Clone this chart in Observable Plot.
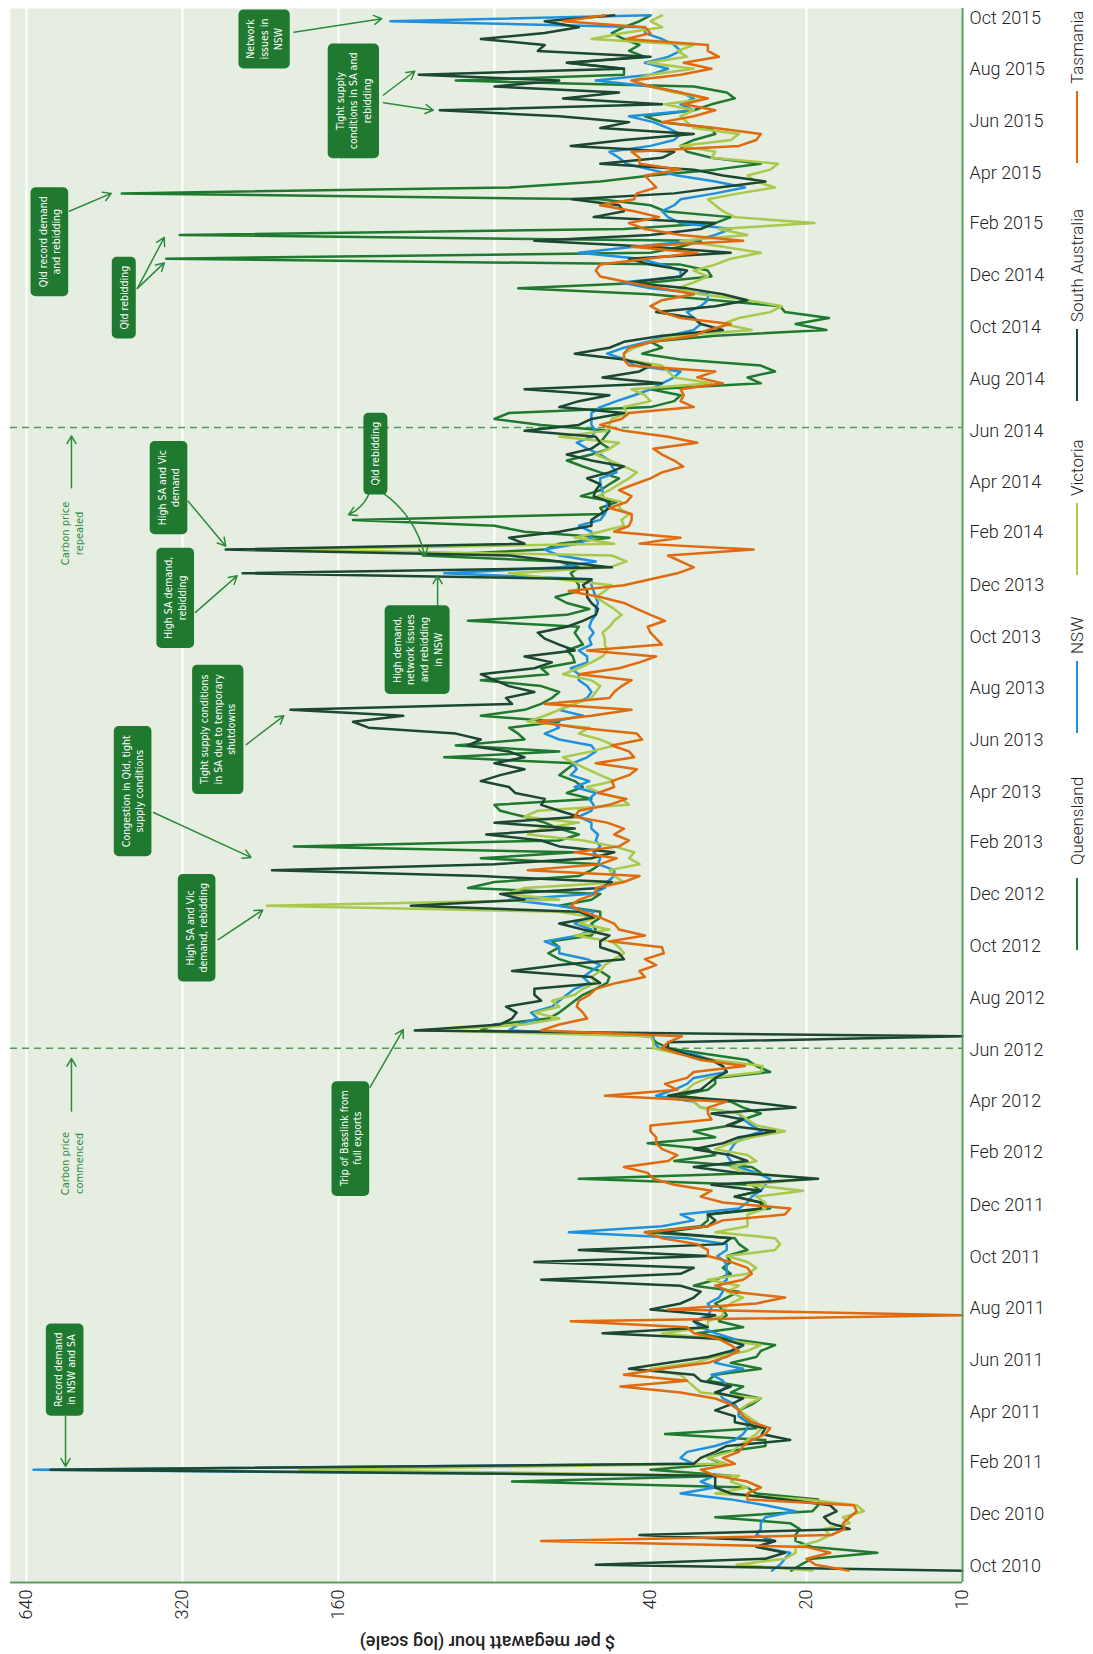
<!DOCTYPE html>
<html><head><meta charset="utf-8">
<script src="https://cdn.jsdelivr.net/npm/d3@7"></script>
<script src="https://cdn.jsdelivr.net/npm/@observablehq/plot@0.6"></script>
<style>
body{margin:0;background:#fff;}
#wrap{position:relative;width:1093px;height:1654px;overflow:hidden;}
#legend{position:absolute;left:1066px;top:950px;width:945px;height:22px;transform-origin:0 0;transform:rotate(-90deg);white-space:nowrap;font-family:Roboto,"Liberation Sans",sans-serif;font-weight:300;font-size:17px;color:#222;}
#legend .sw{position:absolute;top:10px;width:72px;height:2px;}
#legend .lb{position:absolute;top:0;line-height:22px;}
</style></head><body><div id="wrap"></div>
<script>
// Weekly average prices ($/MWh), weeks starting 2010-09-26
const startDate = "2010-09-26";
const qld = [21.4,20.5,19.5,14.6,19.5,21,21,20.6,21.5,30,
19.5,19,19,25,26,74,28,40,29,31,
29,24,24,37.5,25,26,27,27,25.5,24.5,
28,26.5,31,30,24.5,28,25,24.5,23,28,
32.5,26.5,29.5,28.5,29,30,28.5,27,33,30,
28,29,28,28.5,26,27,27.5,41,32,31,
31,23.5,24.5,27.5,24.5,25.5,55,24.5,25.5,36,
30,31,40.5,30,33,28,26.5,24.5,26.5,28,
35.5,31,30,30,23.5,25,26,31,37,39,
40,85,80,63,60,58,56,54,51,48.5,
48,50,55,60,63,60,62,52,51,52,
50,50,60,52,50,90,80,55,52,50,
85,56,195,60,55,60,64,70,78,80,
52,58,54,56,60,58,56,100,60,95,
70,72,75,60,85,70,65,62,60,65,
85,63,65,56,56.5,58,54,55,56,55,
90,58,52.5,58,61,55,55,56,57,55,
60,110,64,60,48,70,80,150,49,50,
46.5,54.5,50,48,46,50,54,58,52,48,
50,49,48,65,80,75,40,36,35,40,
24.5,26,23,24.5,35,41.5,38,40,30,18.3,
21,18.1,22,22.5,30,40,72,40,30.5,31,
35,344,40,35,32,324,45,30,28,37.5,
40,50,419,75,50,40,30,24.5,30.5,34,
35,33,30,30.5,38,41,33,30.5,27.5,28.5,
33,95,45,45,58,41,44,42,45,47.5,
45,42,40];
const nsw = [23.3,22.5,22,21.5,25,23,25,24.5,24.5,24,
21,24,28,35,30,32,30,620,33,35,
34,30,27.5,26.5,26,26,27,27,27.5,29,
29.5,28.5,29,30.5,26.5,30,29,27.5,26.5,27.5,
30,32,33,31,30.5,31,29.5,29,29.5,28.5,
28.5,28.5,28.7,29.7,28.5,28.5,34,57.5,38,33,
35,27,26,25.5,24.5,24,23.5,25,27,28,
28.5,28,27.5,26.5,24.4,25.5,26.5,27,32,33,
39,36,34,33,28.5,29,30.5,33,38.5,39.5,
39.5,75,72,66,68,62,60,58,56,52.5,
54,52,50,53,60,60,64,55,52,56,
53,51.5,60,75,52,49,48.5,47,47,50.5,
50,51.5,50,51,50.5,52,52,55,52,51.5,
52.5,51,56,52.5,57,55.5,56.5,53,51,52,
60,64,60,62,54,60,56,53,52,53,
55,55,57,53,53,55,52,52.5,51.5,52.5,
52,51,51,50.5,51,51.5,52,52,100,60,
51,60,64,55,52,52,55,50,49,48.5,
48.5,49.5,49.5,50,50,46.5,47.5,48,50,53,
55.5,52,51,52,52,52,50,46.5,43,40,
38,36,35,43,44.5,48.5,45,40.5,37,33,
32,33,34,32,31,31,40,45.5,35,35,
38,42,55,43,33,30,28,35,37,38,
36,35,30,26.3,30,35.5,40,44.5,46,48,
40,36,35,37,39.5,44,33,35,33,35,
40,51,40,37,41,37,35,36,38,41,
41,127,40];
const vic = [19.5,27.3,22,21,21,19,18,18.5,16.5,17,
15.5,16,20,30,26,28,27,190,28.5,31,
28,27,26,25,24.4,25,26,27,26,24.5,
32,33,34,35,40,33,30,26,24.5,30,
38,31,31,29,29,28,26.5,28.5,27,31,
26,25,26,28.5,23,22.5,23,30,26,26,
26,24,24,25,20.3,26,19.5,26,28,25,
26,30,28,25.5,22,25,26,27,32,33,
36,34,33,31,24.5,24.3,30,35,39.5,39.5,
40,105,70,60,67,60,62,56,54,51,
52,50,49,47,45,46,47.6,56,48,55,
51,60,220,60,76,70,45,47,48,42,
44,43,47,54,69,65,55,70,66,44,
45.5,50,53,47,50,53,56,59,52,47,
50,55,52.5,69,64,60,56,52,51,50,
52,59,55,52,49.5,48.5,49,49,49.5,48,
47,45.5,47,49,51,49,47.5,60,75,48,
44.5,47.5,200,47,56,50,45,45.5,44,46,
45.5,50.5,48,46,44,42.5,45,48,51,48,
46,60,48.5,48,47.5,44.5,45,40,41,43.5,
30.5,36,37,38,45,45,43,40,36,25.5,
29,27,23.5,22.3,26,32,35.5,33,31,33,
30,28,24.5,29,35,26,29.5,19.3,27.5,29,
30,31,27,23,25,26,23.5,22.7,30.5,30,
35,28,27,33,34,35,33,37.5,31,36,
40,43.5,40,33,40.5,34,35.5,33,52,45,
38,40,38];
const sa = [10,51,24,22,25,23,42,16.5,18,18.5,
17.5,18,22,28,30,30,30,575,33,32,
30,28.5,21.5,24.4,24,27.5,27.5,30,28,26.5,
30,28,32,33,44,37,31,28,26.5,29,
49.5,31,33,30,40,35,33,32,35,65,
35,33,67,31,55,29,28,38,31,30,
31,24.5,24.5,27.5,24.5,30.5,19,27,33,26,
28,33,29,27,23,28.5,26.5,30.5,21,26,
37,32,31,30,28.5,29,30.5,34,37,37,
10,114,78,74,72.5,76,65,67,67,50,
52,74,60,45,46,50,50,48,54,60,
51.5,55,116,70,78,50,47.5,85,215,80,
52,47,60,65,83,56,80,55,60,65,
64,73,75,85,78,70,80,70,75,90,
85,95,140,150,120,198,74,76,67,75,
80,85,67,62,70,56,60,64,66,58,
54,51,50.5,52,53,53,54,52,245,47.5,
60,75,264,70,75,60,52,52,50,48,
48,51.5,51,50,53,48,45,52,58,52,
50,51,70,55,52,45,60,55,48,70,
38,49.5,42,40,45,56,48,45,38,29,
32,33,39,30,26,29,34,44,35,34,
40,44,28,40,67,40,32,30,51.5,45,
46,56.6,36,29.5,24,29,33,50,38,36,
57,45,33,50,44,60,102,38,59,46,
80,60,112,45,58,40,66,64,85,64,
55,64,47];
const tas = [16.6,19.2,20,18,20,65,17.9,16.9,17,16.5,
16,16.2,26,26,24.5,26,30,32,27.5,29,
27,26.5,25.5,24,23.5,25.5,26.5,27,28,30,
35,45.7,34,45,38,31,28.5,27,28,29.5,
33,34,57,10,37,25,22,28,30,26.5,
25.5,26,28,31,31,32.5,38,41,31,29,
22,21.5,29,32,30.5,36,39.5,40.5,45,37,
35.5,38,39,39,40,40,30.5,31,31,28.5,
49,35.5,37.5,34,33,26.3,32,35,38,37,
34.8,65,60,53,54,55.5,55,52.5,51,46.5,
41,42,39,41,37.7,38,48,41,46,47,
50,54,57,55,51,51,45,42,69,50,
46.5,56,46,44,47,45,48.5,56,55,48,
44.5,50.5,47,47.5,44,42.5,51,43,44,47.5,
41.5,42.5,55,66,52,43.5,64,48,47,45.5,
43.5,55,46,42,39,53,38,39,40,40.5,
37.5,40,42.5,45,50,57.5,45,40,35.5,33,
35,37,25.3,42,35,47,44,43.5,43.5,48,
44.5,43.5,46,43,40,38,34.6,36,38,39.5,
32.5,37,45,50,45.5,44,33,35,34.5,35,
29,32.5,30,44,45,45,44,39.5,33,31,
28,35,38,40,38,33,38,44,50,51,
50,40.5,32.5,43.5,26.5,35,41,44,38.5,43,
50,43,42.5,39,40,41,35,42,42,43.5,
27,25,24.5,30,38,33,30,34.5,31,35,
40,43.5,35,30.5,34.5,29.5,31,31,44.5,40,
41,59,49];

const regionNames = ["Queensland","NSW","Victoria","South Australia","Tasmania"];
const regionColors = ["#1f7a2f","#2191dd","#a9c84c","#1b4733","#df6a0f"];
const regionValues = [qld, nsw, vic, sa, tas];

const valueTicks = [10,20,40,80,160,320,640];
const gridValues = [20,40,80,160,320,640];
const dateTicks = ["2010-10-01","2010-12-01","2011-02-01","2011-04-01","2011-06-01","2011-08-01","2011-10-01","2011-12-01",
"2012-02-01","2012-04-01","2012-06-01","2012-08-01","2012-10-01","2012-12-01","2013-02-01","2013-04-01","2013-06-01",
"2013-08-01","2013-10-01","2013-12-01","2014-02-01","2014-04-01","2014-06-01","2014-08-01","2014-10-01","2014-12-01",
"2015-02-01","2015-04-01","2015-06-01","2015-08-01","2015-10-01"];
const carbonLines = ["2012-06-03","2014-06-05"];

const notes = [
 {date:"2015-09-06", value:223, text:"Network\nissues in\nNSW"},
 {date:"2015-06-25", value:150, text:"Tight supply\nconditions in SA and\nrebidding"},
 {date:"2015-01-10", value:579, text:"Qld record demand\nand rebidding"},
 {date:"2014-11-05", value:416, text:"Qld rebidding"},
 {date:"2014-03-26", value:341, text:"High SA and Vic\ndemand"},
 {date:"2014-05-05", value:136, text:"Qld rebidding"},
 {date:"2013-11-16", value:331, text:"High SA demand,\nrebidding"},
 {date:"2013-09-16", value:113, text:"High demand,\nnetwork issues\nand rebidding\nin NSW"},
 {date:"2013-06-14", value:274, text:"Tight supply conditions\nin SA due to temporary\nshutdowns"},
 {date:"2013-04-02", value:400, text:"Congestion in Qld, tight\nsupply conditions"},
 {date:"2012-10-23", value:301, text:"High SA and Vic\ndemand, rebidding"},
 {date:"2012-02-18", value:152, text:"Trip of Basslink from\nfull exports"},
 {date:"2011-05-21", value:541, text:"Record demand\nin NSW and SA"}
];
const plainNotes = [
 {date:"2014-01-31", value:524, text:"Carbon price\nrepealed"},
 {date:"2012-01-19", value:524, text:"Carbon price\ncommenced"}
];
const arrows = [
 {d1:"2015-09-14", v1:195, d2:"2015-09-30", v2:132},
 {d1:"2015-06-23", v1:131, d2:"2015-06-14", v2:105},
 {d1:"2015-07-02", v1:131, d2:"2015-07-30", v2:114},
 {d1:"2015-02-15", v1:529, d2:"2015-03-08", v2:439},
 {d1:"2014-11-16", v1:391, d2:"2015-01-15", v2:347},
 {d1:"2014-11-16", v1:391, d2:"2014-12-16", v2:347},
 {d1:"2014-03-26", v1:524, d2:"2014-05-26", v2:524},
 {d1:"2014-03-10", v1:312, d2:"2014-01-16", v2:264},
 {d1:"2013-10-30", v1:302, d2:"2013-12-12", v2:251},
 {d1:"2013-11-05", v1:103, d2:"2013-12-12", v2:103},
 {d1:"2013-05-27", v1:241, d2:"2013-06-30", v2:204},
 {d1:"2013-03-08", v1:364, d2:"2013-01-14", v2:236},
 {d1:"2012-10-09", v1:273, d2:"2012-11-13", v2:224},
 {d1:"2012-04-18", v1:139, d2:"2012-06-25", v2:120},
 {d1:"2012-03-21", v1:524, d2:"2012-05-22", v2:524},
 {d1:"2011-03-27", v1:538, d2:"2011-01-27", v2:538}
];
const bentArrows = [
 {d1:"2014-03-22", v1:139, d2:"2014-02-22", v2:153},
 {d1:"2014-03-22", v1:133, d2:"2014-01-04", v2:109}
];

const D = s => new Date(s + "T00:00:00Z");
const start = D(startDate).getTime();
const WEEK = 7 * 864e5;
const series = regionNames.map((name, k) => regionValues[k].map((v, i) => ({region: name, date: new Date(start + i * WEEK), value: v})));
const green = "#2b8a3c";
const axisGreen = "#5d9f63";
const yDomain = [D("2010-09-12"), D("2015-10-12")];
const noteFont = "'Liberation Sans Narrow','DejaVu Sans Condensed',sans-serif";

const chart = Plot.plot({
  width: 1093, height: 1654,
  marginLeft: 10, marginRight: 131, marginTop: 8, marginBottom: 72,
  style: {fontFamily: "Roboto, 'Liberation Sans', sans-serif", fontSize: "18px", fontWeight: 300, color: "#222", background: "#fff"},
  x: {type: "log", domain: [687, 10], ticks: valueTicks, tickFormat: d => String(d), tickRotate: -90, tickSize: 0, tickPadding: 7, label: null},
  y: {type: "utc", domain: yDomain, ticks: dateTicks.map(D), tickFormat: d3.utcFormat("%b %Y"), axis: "right", tickSize: 0, tickPadding: 7, label: null},
  marks: [
    Plot.frame({fill: "#e6eee2", stroke: "none"}),
    Plot.ruleX(gridValues, {stroke: "#ffffff", strokeWidth: 2}),
    Plot.ruleY(carbonLines.map(D), {stroke: "#4f9b58", strokeWidth: 1.6, strokeDasharray: "7,5"}),
    ...series.map((s, k) => Plot.line(s, {x: "value", y: "date", stroke: regionColors[k], strokeWidth: 2.5})),
    Plot.ruleX([10], {stroke: axisGreen, strokeWidth: 2}),
    Plot.ruleY([yDomain[0]], {stroke: axisGreen, strokeWidth: 2}),
    Plot.arrow(arrows, {x1: "v1", y1: d => D(d.d1), x2: "v2", y2: d => D(d.d2), stroke: green, strokeWidth: 1.5, headLength: 9}),
    Plot.arrow(bentArrows, {x1: "v1", y1: d => D(d.d1), x2: "v2", y2: d => D(d.d2), stroke: green, strokeWidth: 1.5, headLength: 9, bend: true}),
    Plot.text(notes, {x: "value", y: d => D(d.date), text: "text", rotate: -90, fill: "white", fontSize: 10.5, fontWeight: 400,
      fontFamily: noteFont, lineHeight: 1.3, textAnchor: "middle", lineAnchor: "middle"}),
    Plot.text(plainNotes, {x: "value", y: d => D(d.date), text: "text", rotate: -90, fill: green, fontSize: 11, fontWeight: 400,
      fontFamily: noteFont, lineHeight: 1.25, textAnchor: "middle", lineAnchor: "middle"}),
    Plot.text(["$ per megawatt hour (log scale)"], {text: d => d, frameAnchor: "bottom-left", dx: 477, dy: 53, rotate: 180, fontSize: 18, fontWeight: 500, fill: "#222", textAnchor: "middle"})
  ]
});

const wrap = document.getElementById("wrap");
wrap.appendChild(chart);

// dark green boxes behind the white annotation texts
const ns = "http://www.w3.org/2000/svg";
const noteGroup = Array.from(chart.querySelectorAll("g")).find(gg => {
  const t = gg.querySelector("text");
  return t && gg.getAttribute("fill") === "white" && gg.textContent.includes("Network");
});
if (noteGroup) {
  Array.from(noteGroup.querySelectorAll("text")).forEach(t => {
    const b = t.getBBox();
    const r = document.createElementNS(ns, "rect");
    r.setAttribute("x", b.x - 9);
    r.setAttribute("y", b.y - 6);
    r.setAttribute("width", b.width + 18);
    r.setAttribute("height", b.height + 12);
    r.setAttribute("rx", 5);
    r.setAttribute("fill", "#1f7a30");
    const tr = t.getAttribute("transform");
    if (tr) r.setAttribute("transform", tr);
    t.parentNode.insertBefore(r, t);
  });
}

// legend (rotated, reading bottom to top)
const legendSwatchAt = [0, 217, 375, 549, 787];
const legendLabelAt = [85, 296, 454, 628, 866];
const legend = document.createElement("div");
legend.id = "legend";
regionNames.forEach((n, k) => {
  const sw = document.createElement("span"); sw.className = "sw";
  sw.style.background = regionColors[k]; sw.style.left = legendSwatchAt[k] + "px";
  const lb = document.createElement("span"); lb.className = "lb";
  lb.textContent = n; lb.style.left = legendLabelAt[k] + "px";
  legend.appendChild(sw); legend.appendChild(lb);
});
wrap.appendChild(legend);
</script></body></html>
